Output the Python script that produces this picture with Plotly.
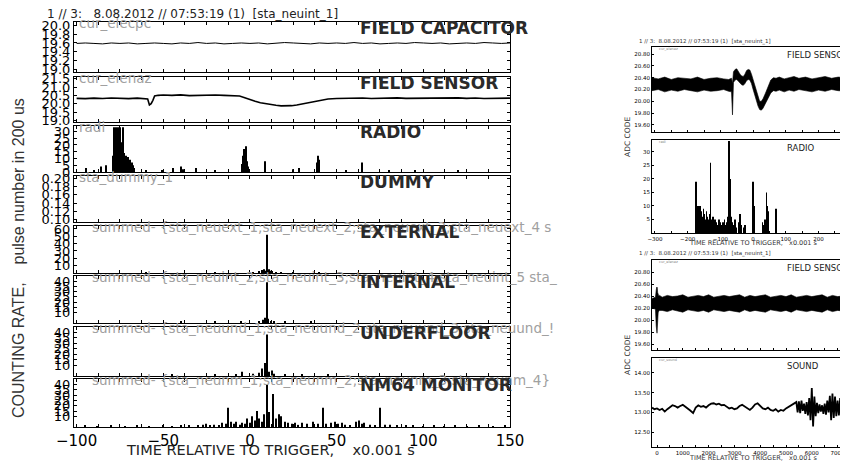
import plotly.graph_objects as go

# the page body has an 8px margin, so the figure is drawn 8px in from the corner
OFF = 8
W, H = 848 - OFF, 463 - OFF
NB = "\u00a0"

# ---------------- left figure data ----------------
cap_t = list(range(-100, 151, 5))
cap_v = [19.59, 19.60, 19.59, 19.58, 19.60, 19.59, 19.60, 19.58, 19.59, 19.60,
         19.59, 19.58, 19.60, 19.59, 19.61, 19.59, 19.60, 19.58, 19.59, 19.60,
         19.59, 19.60, 19.58, 19.59, 19.61, 19.60, 19.59, 19.58, 19.60, 19.59,
         19.60, 19.59, 19.61, 19.59, 19.60, 19.58, 19.59, 19.60, 19.59, 19.61,
         19.60, 19.59, 19.60, 19.58, 19.59, 19.60, 19.59, 19.61, 19.60, 19.59,
         19.60]

sens_t = [-100, -95, -90, -85, -80, -75, -70, -65,
          -61, -59, -58, -57, -56, -55, -53, -50,
          -45, -40, -35, -30, -25, -20, -15, -10,
          -6, -3, 0, 3, 6, 9, 12, 15,
          18, 21, 24, 27, 30, 33, 36, 39,
          42, 45, 50, 55, 60, 65, 70, 75,
          80, 85, 90, 95, 100, 105, 110, 115,
          120, 125, 130, 135, 140, 145, 150]
sens_v = [20.32, 20.30, 20.33, 20.31, 20.34, 20.32, 20.30, 20.33,
          20.31, 20.28, 19.92, 20.00, 20.20, 20.46, 20.50, 20.52,
          20.50, 20.53, 20.48, 20.50, 20.49, 20.52, 20.50, 20.48,
          20.46, 20.36, 20.24, 20.14, 20.06, 20.00, 19.94, 19.90,
          19.87, 19.86, 19.88, 19.92, 19.98, 20.06, 20.12, 20.18,
          20.24, 20.28, 20.31, 20.33, 20.32, 20.34, 20.31, 20.33,
          20.32, 20.35, 20.32, 20.33, 20.31, 20.34, 20.32, 20.33,
          20.35, 20.32, 20.34, 20.31, 20.33, 20.32, 20.33]

radio_t = [-94.5, -90, -86, -83,
           -79, -78.5, -78, -77.5, -77, -76.5, -76, -75.5, -75, -74.5,
           -74, -73.5, -73, -72.5, -72, -71.5, -71, -70.5, -70,
           -69, -68, -67.5, -67, -60, -51, -44.5, -39.5, -38.5, -31, -20,
           -4.5, -4, -3.5, -3, -2.5, -2, -1.5, -1,
           8.5, 25, 28.5, 38.5, 39, 39.5, 40, 55.5, 64.5, 80, 95, 120]
radio_v = [3, 1, 4, 5,
           12, 33, 22, 33, 28, 18, 33, 25, 33, 16,
           22, 12, 33, 14, 10, 12, 8, 11, 6,
           9, 7, 5, 3, 1, 1, 3, 4, 2, 3, 1,
           6, 12, 17, 10, 19, 14, 8, 4,
           8, 2, 3, 7, 12, 6, 9, 1, 7, 1, 1, 1]

ext_t = [-60, -20, 2, 5, 7, 8, 9, 9.7, 10.5, 11, 12, 13, 15, 18, 25, 40]
ext_v = [1, 1, 1, 2, 4, 5, 3, 52, 4, 5, 3, 2, 1, 1, 1, 1]

int_t = [-40, -20, -5, 5, 7.5, 8.5, 9.7, 10.5, 12, 14, 20, 35]
int_v = [1, 1, 1, 2, 3, 5, 39, 4, 2, 1, 1, 1]

und_t = [-45, -20, -8, -4.5, 2, 5, 7, 8.5, 9.7, 11, 12.5, 14, 20, 30, 45]
und_v = [1, 1, 1, 4, 2, 3, 7, 12, 38, 4, 5, 2, 1, 1, 1]

nm_t = [-95, -88, -80, -72, -65, -58, -50, -45, -40, -35,
        -30, -27, -25.5, -23, -21, -18, -16, -14, -12.8, -11,
        -9, -8, -6, -4.5, -3, -1.6, 0, 1.3, 3, 4.3,
        5.5, 7, 8, 9.7, 11, 13.4, 15, 16.5, 18, 20,
        22, 24, 26, 28, 30, 33, 36.3, 39, 42.2, 44,
        47, 49, 51, 53, 55, 58, 61, 63, 64.5, 66,
        69, 72, 75, 78, 81, 85, 90, 94, 100, 106,
        112, 118, 125, 132, 140, 147]
nm_v = [1, 0.5, 1, 0.5, 1, 0.5, 1, 0.5, 1, 1,
        1, 2, 3, 1, 2, 1, 4, 3, 18, 5,
        3, 5, 2, 4, 3, 8, 4, 10, 6, 15,
        8, 5, 12, 40, 14, 31, 8, 12, 10, 5,
        4, 3, 4, 2, 4, 3, 5, 3, 18, 3,
        4, 5, 3, 4, 2, 1, 5, 6, 3, 4,
        2, 1, 18, 2, 2, 1, 1, 1, 0.5, 1,
        0.5, 1, 0.5, 1, 0.5, 1]

# ---------------- right figures data ----------------
a_t = [-309, -290, -270, -250, -230, -210, -190, -170, -150, -130,
       -110, -90, -75, -66, -63, -60, -55, -50, -45, -40,
       -35, -30, -25, -20, -15, -10, -5, 0, 5, 10,
       15, 20, 25, 30, 38, 46, 54, 62, 70, 80,
       95, 110, 125, 140, 160, 180, 200, 220, 240, 260, 290]
a_hi = [20.40, 20.38, 20.41, 20.37, 20.40, 20.39, 20.38, 20.41, 20.37, 20.39,
        20.40, 20.38, 20.37, 20.39, 20.30, 20.50, 20.54, 20.55, 20.50, 20.46,
        20.43, 20.42, 20.46, 20.52, 20.54, 20.53, 20.46, 20.36, 20.26, 20.16,
        20.06, 20.00, 20.00, 20.04, 20.14, 20.26, 20.36, 20.40, 20.39, 20.41,
        20.38, 20.40, 20.42, 20.39, 20.41, 20.38, 20.40, 20.42, 20.39, 20.41, 20.40]
a_lo = [20.18, 20.20, 20.16, 20.19, 20.17, 20.20, 20.18, 20.16, 20.19, 20.17,
        20.18, 20.20, 20.17, 20.16, 19.77, 20.32, 20.36, 20.37, 20.34, 20.30,
        20.28, 20.27, 20.30, 20.35, 20.37, 20.36, 20.30, 20.20, 20.10, 20.00,
        19.92, 19.86, 19.85, 19.88, 19.96, 20.06, 20.14, 20.18, 20.17, 20.19,
        20.16, 20.19, 20.17, 20.20, 20.18, 20.16, 20.19, 20.17, 20.20, 20.18, 20.17]

rb_t = [-176, -174, -172, -170, -168, -166, -164, -162, -160,
        -157, -154, -151, -148, -145, -142, -139, -136, -133,
        -131, -129, -126, -123, -120, -116, -112, -108, -104, -100,
        -96, -92, -88, -84, -80, -77, -76, -75, -74, -73,
        -72, -71, -68, -64, -60, -55, -50, -45, -40, -35,
        -30, -25, 0, 2, 5, 28, 31, 36, 41, 44,
        46, 70]
rb_v = [6, 19, 10, 8, 10, 9, 7, 10, 9,
        8, 6, 9, 7, 5, 8, 6, 5, 7,
        26, 5, 4, 6, 3, 5, 4, 3, 5, 4,
        3, 4, 5, 3, 4, 6, 34, 34, 30, 34,
        34, 20, 6, 4, 3, 5, 2, 4, 7, 3,
        2, 3, 19, 7, 10, 4, 3, 5, 15, 10,
        8, 9]

c_t = [-194, -60, -30, -10, 0, 10, 25, 45, 70, 100,
       200, 400, 600, 800, 1000, 1200, 1400, 1600, 1800, 2000,
       2200, 2400, 2600, 2800, 3000, 3200, 3400, 3600, 3800, 4000,
       4200, 4400, 4600, 4800, 5000, 5200, 5400, 5600, 5800, 6000,
       6200, 6400, 6600, 6800, 7000, 7200, 7403]
c_hi = [20.36, 20.38, 20.50, 20.55, 20.52, 20.54, 20.46, 20.42, 20.40, 20.41,
        20.38, 20.41, 20.39, 20.40, 20.42, 20.38, 20.40, 20.41, 20.39, 20.42,
        20.38, 20.40, 20.41, 20.39, 20.40, 20.42, 20.38, 20.41, 20.39, 20.40,
        20.42, 20.38, 20.40, 20.41, 20.39, 20.42, 20.38, 20.40, 20.41, 20.39,
        20.40, 20.42, 20.38, 20.41, 20.39, 20.40, 20.39]
c_lo = [20.20, 20.18, 19.90, 19.80, 19.78, 19.85, 20.00, 20.12, 20.15, 20.16,
        20.16, 20.14, 20.17, 20.15, 20.13, 20.17, 20.15, 20.14, 20.16, 20.13,
        20.17, 20.15, 20.14, 20.16, 20.15, 20.13, 20.17, 20.14, 20.16, 20.15,
        20.13, 20.17, 20.15, 20.14, 20.16, 20.13, 20.17, 20.15, 20.14, 20.16,
        20.15, 20.13, 20.17, 20.14, 20.16, 20.15, 20.17]

d_t = ([-190, -100] + list(range(0, 5401, 100)) + list(range(5450, 7401, 50)))
d_v = [13.12, 13.08,
       13.10, 13.06, 13.09, 13.02, 13.08, 13.14, 13.18, 13.16, 13.12, 13.16,
       13.19, 13.14, 13.10, 13.04, 12.98, 13.12, 13.18, 13.14, 13.16, 13.12,
       13.18, 13.22, 13.23, 13.20, 13.22, 13.18, 13.19, 13.14, 13.10, 13.12,
       13.08, 13.10, 13.16, 13.19, 13.14, 13.10, 13.06, 13.12, 13.20, 13.23,
       13.16, 13.10, 13.08, 13.12, 13.06, 13.04, 13.08, 13.02, 13.06, 13.04,
       13.10, 13.14, 13.18, 13.20, 13.26,
       13.00, 13.28, 12.98, 13.30, 13.04, 13.22, 12.96, 13.26, 12.92, 13.36,
       12.80, 13.62, 12.64, 13.40, 12.90, 13.24, 12.98, 13.20, 13.02, 13.18,
       12.96, 13.22, 12.94, 13.30, 13.00, 13.42, 12.80, 13.48, 12.86, 13.40,
       12.90, 13.30, 12.92, 13.36, 12.88, 13.28, 12.96, 13.34, 12.90, 13.24]

# ---------------- text ----------------
title_text = "1 // 3:" + NB * 3 + "8.08.2012 // 07:53:19 (1)" + NB * 2 + "[sta_neuint_1]"
left_names = ["FIELD CAPACITOR", "FIELD SENSOR", "RADIO", "DUMMY",
              "EXTERNAL", "INTERNAL", "UNDERFLOOR", "NM64 MONITOR"]
left_tags = ["cur_elecpc", "cur_elenaz", "radi", "sta_dummy_1",
             "summed- {sta_neuext_1;sta_neuext_2;sta_neuext_3;sta_neuext_4 s",
             "summed- {sta_neuint_2;sta_neuint_3;sta_neuint_4;sta_neuint_5 sta_",
             "summed- {sta_neuund_1;sta_neuund_2;sta_neuund_3;sta_neuund_!",
             "summed- {sta_neunm_1;sta_neunm_2;sta_neunm_3;sta_neunm_4}"]
xtitle = "TIME RELATIVE TO TRIGGER," + NB * 4 + "x0.001 s"
ytitle = "COUNTING RATE," + NB * 4 + "pulse number in 200 us"

# ---------------- layout geometry (window pixel coordinates) ----------------
def fx(p):
    return (p - OFF) / W

def fy(p):
    return 1 - (p - OFF) / H

L_X0, L_X1 = 74, 510
left_boxes = [(22, 72), (77, 122), (126, 172), (176, 222),
              (226, 273), (276, 323), (327, 376), (379, 427)]
left_ranges = [[18.95, 20.07], [18.9, 21.6], [0, 34], [0.095, 0.205],
               [0, 64], [0, 45], [0, 45], [0, 45]]
left_yticks = [[19.0, 19.2, 19.4, 19.6, 19.8, 20.0],
               [19.0, 19.5, 20.0, 20.5, 21.0, 21.5],
               [0, 5, 10, 15, 20, 25, 30],
               [0.10, 0.12, 0.14, 0.16, 0.18, 0.20],
               [10, 20, 30, 40, 50, 60],
               [10, 15, 20, 25, 30, 35, 40],
               [10, 15, 20, 25, 30, 35, 40],
               [10, 15, 20, 25, 30, 35, 40]]
left_yfmt = [".1f", ".1f", "d", ".2f", "d", "d", "d", "d"]

lx_vals = [-100 + 12.5 * k for k in range(21)]
lx_text = [("\u2212" + str(int(-v)) if v < 0 else str(int(v))) if v % 50 == 0 else ""
           for v in lx_vals]

fig = go.Figure()
layout = dict(width=W, height=H, autosize=False,
              margin=dict(l=0, r=0, t=0, b=0, autoexpand=False),
              paper_bgcolor="white", plot_bgcolor="white", showlegend=False,
              font=dict(family="DejaVu Sans", color="black"))
annotations = []


def ann(text, x, y, size, color="black", xanchor="left", yanchor="middle",
        angle=0, family="DejaVu Sans"):
    annotations.append(dict(text=text, x=fx(x), y=fy(y), xref="paper", yref="paper",
                            showarrow=False, xanchor=xanchor, yanchor=yanchor,
                            textangle=angle, font=dict(size=size, color=color, family=family)))


for i, (top, bot) in enumerate(left_boxes):
    n = i + 1
    sfx = "" if n == 1 else str(n)
    layout["xaxis" + sfx] = dict(domain=[fx(L_X0), fx(L_X1)], range=[-101.5, 150],
                                 anchor="y" + sfx, showline=True, linecolor="black",
                                 linewidth=1, mirror="ticks", ticks="inside", ticklen=3,
                                 tickcolor="black", tickvals=lx_vals, ticktext=lx_text,
                                 showticklabels=(n == 8), showgrid=False, zeroline=False,
                                 automargin=False,
                                 tickfont=dict(size=15, family="DejaVu Sans"))
    layout["yaxis" + sfx] = dict(domain=[fy(bot), fy(top)], range=left_ranges[i],
                                 anchor="x" + sfx, showline=True, linecolor="black",
                                 linewidth=1, mirror="ticks", ticks="inside", ticklen=3,
                                 tickcolor="black", tickvals=left_yticks[i],
                                 tickformat=left_yfmt[i], showgrid=False, zeroline=False,
                                 automargin=False,
                                 tickfont=dict(size=13, family="DejaVu Sans"))
    ann(left_tags[i], 77 if i < 4 else 90, top + 1, 13.5, color="#a0a0a0")
    ann("<b>" + left_names[i] + "</b>", 358, top + 6, 17, color="#2a2a2a")

# traces (left)
fig.add_trace(go.Scatter(x=cap_t, y=cap_v, mode="lines", line=dict(color="black", width=1),
                         xaxis="x", yaxis="y"))
fig.add_trace(go.Scatter(x=sens_t, y=sens_v, mode="lines", line=dict(color="black", width=1.6),
                         xaxis="x2", yaxis="y2"))
fig.add_trace(go.Bar(x=radio_t, y=radio_v, width=0.6, marker=dict(color="black", line=dict(width=0)),
                     xaxis="x3", yaxis="y3"))
fig.add_trace(go.Scatter(x=[None], y=[None], mode="lines", xaxis="x4", yaxis="y4"))
for (tt, vv, k) in [(ext_t, ext_v, 5), (int_t, int_v, 6), (und_t, und_v, 7), (nm_t, nm_v, 8)]:
    fig.add_trace(go.Bar(x=tt, y=vv, width=0.6, marker=dict(color="black", line=dict(width=0)),
                         xaxis="x" + str(k), yaxis="y" + str(k)))

ann(title_text, 45, 14, 12, color="#222222")
ann(xtitle, 270, 450, 14.5, color="#222222", xanchor="center")
ann(ytitle, 18, 258, 16, color="#333333", xanchor="center", angle=-90,
    family="Liberation Sans")

# ---------------- right figures ----------------
R_X0 = 652
right_boxes = [(47, 132), (140, 233), (260, 350), (358, 447)]
right_ranges = [[19.48, 20.92], [0, 34.4], [19.5, 21.0], [12.12, 14.38]]
right_yticks = [[19.6, 19.8, 20.0, 20.2, 20.4, 20.6, 20.8],
                [5, 10, 15, 20, 25, 30],
                [19.6, 19.8, 20.0, 20.2, 20.4, 20.6, 20.8],
                [12.5, 13.0, 13.5, 14.0]]
right_yfmt = [".2f", "d", ".2f", ".2f"]
rx1_vals = [-300 + 50 * k for k in range(12)]
rx1_text = [("\u2212" + str(-v) if v < 0 else str(v)) if v % 100 == 0 else "" for v in rx1_vals]
rx2_vals = [500 * k for k in range(15)]
rx2_text = [str(v) if v % 1000 == 0 else "" for v in rx2_vals]
right_xr = [[-309, 290], [-309, 290], [-194, 7403], [-194, 7403]]
right_names = ["FIELD SENSOR", "RADIO", "FIELD SENSOR", "SOUND"]
right_tags = ["cur_elenaz", "radi", "cur_elenaz", "cur_sound"]

for j, (top, bot) in enumerate(right_boxes):
    n = 9 + j
    sfx = str(n)
    first = j < 2
    layout["xaxis" + sfx] = dict(domain=[fx(R_X0), 1], range=right_xr[j], anchor="y" + sfx,
                                 showline=True, linecolor="black", linewidth=1, mirror=True,
                                 ticks="inside", ticklen=2, tickcolor="black",
                                 tickvals=rx1_vals if first else rx2_vals,
                                 ticktext=rx1_text if first else rx2_text,
                                 showticklabels=(j in (1, 3)), showgrid=False, zeroline=False,
                                 automargin=False,
                                 tickfont=dict(size=5.5, family="DejaVu Sans"))
    layout["yaxis" + sfx] = dict(domain=[fy(bot), fy(top)], range=right_ranges[j],
                                 anchor="x" + sfx, showline=True, linecolor="black",
                                 linewidth=1, mirror=False, ticks="inside", ticklen=2,
                                 tickcolor="black", tickvals=right_yticks[j],
                                 tickformat=right_yfmt[j], showgrid=False, zeroline=False,
                                 automargin=False,
                                 tickfont=dict(size=5.5, family="DejaVu Sans"))
    ann(right_names[j], 785, top + 8, 8.5, color="#222222")
    ann(right_tags[j], 657, top + 2, 3.5, color="#888888")

# panel A band
fig.add_trace(go.Scatter(x=a_t, y=a_lo, mode="lines", line=dict(color="black", width=0.6),
                         xaxis="x9", yaxis="y9"))
fig.add_trace(go.Scatter(x=a_t, y=a_hi, mode="lines", line=dict(color="black", width=0.6),
                         fill="tonexty", fillcolor="black", xaxis="x9", yaxis="y9"))
# panel B bars
fig.add_trace(go.Bar(x=rb_t, y=rb_v, width=1.2, marker=dict(color="black", line=dict(width=0)),
                     xaxis="x10", yaxis="y10"))
# panel C band
fig.add_trace(go.Scatter(x=c_t, y=c_lo, mode="lines", line=dict(color="black", width=0.6),
                         xaxis="x11", yaxis="y11"))
fig.add_trace(go.Scatter(x=c_t, y=c_hi, mode="lines", line=dict(color="black", width=0.6),
                         fill="tonexty", fillcolor="black", xaxis="x11", yaxis="y11"))
# panel D line
fig.add_trace(go.Scatter(x=d_t, y=d_v, mode="lines", line=dict(color="black", width=1.8),
                         xaxis="x12", yaxis="y12"))

small_title = "1 // 3:" + NB * 2 + "8.08.2012 // 07:53:19 (1)" + NB * 2 + "[sta_neuint_1]"
ann(small_title, 637, 42, 5.5, color="#333333")
ann(small_title, 637, 254, 5.5, color="#333333")
rxt = "TIME RELATIVE TO TRIGGER," + NB * 3 + "x0.001 s"
ann(rxt, 753, 243, 6.5, color="#333333", xanchor="center")
ann(rxt, 753, 458, 6.5, color="#333333", xanchor="center")
ann("ADC" + NB + "CODE", 627, 137, 7.5, color="#333333", xanchor="center", angle=-90)
ann("ADC" + NB + "CODE", 627, 355, 7.5, color="#333333", xanchor="center", angle=-90)

layout["annotations"] = annotations
fig.update_layout(**layout)
fig.write_html("out.html")
